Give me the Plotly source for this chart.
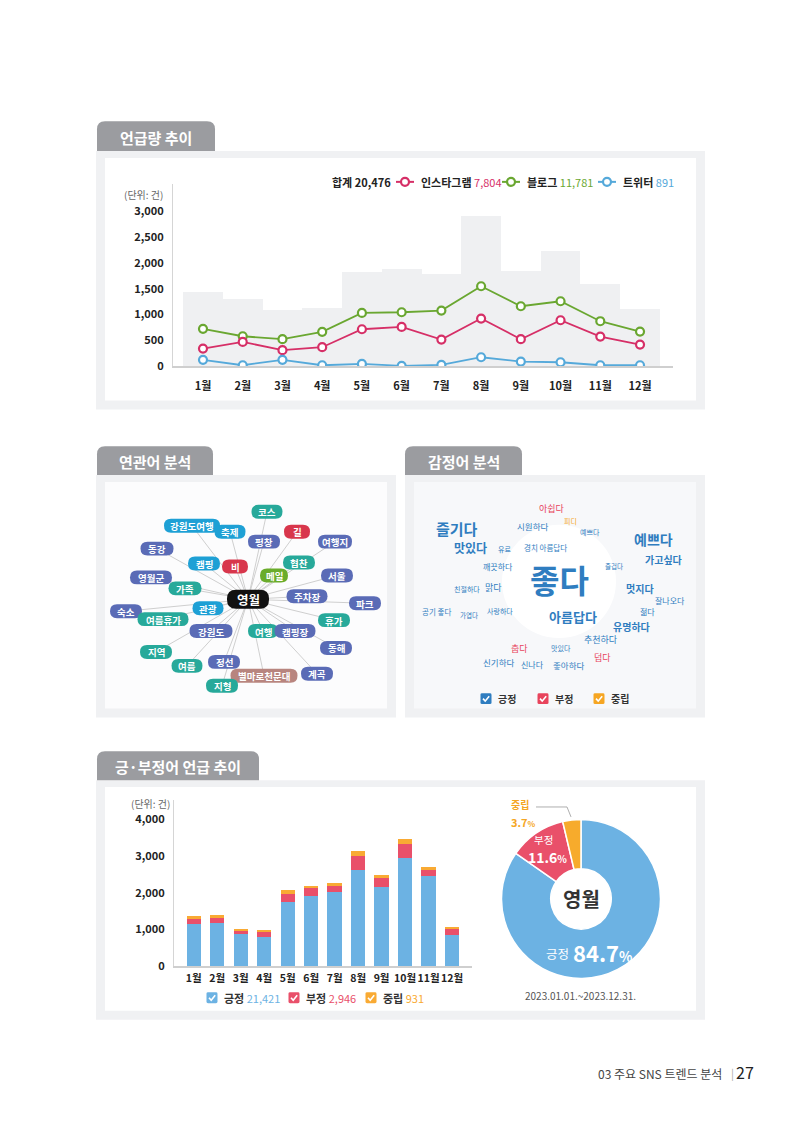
import plotly.graph_objects as go

W, H = 800, 1132
KR = "Noto Sans CJK KR"

# ---------------- data ----------------
months = ["1월", "2월", "3월", "4월", "5월", "6월", "7월", "8월", "9월", "10월", "11월", "12월"]
volume_total = [1440, 1310, 1100, 1130, 1830, 1885, 1790, 2920, 1840, 2235, 1600, 1115]
instagram = [342, 471, 310, 368, 716, 761, 516, 923, 523, 890, 574, 419]
blog = [723, 580, 523, 665, 1032, 1045, 1077, 1548, 1161, 1258, 871, 671]
twitter = [123, 19, 123, 19, 45, 5, 26, 174, 90, 77, 19, 19]
summary_total = "20,476"
summary_instagram = "7,804"
summary_blog = "11,781"
summary_twitter = "891"
y1_ticks = [0, 500, 1000, 1500, 2000, 2500, 3000]

sent_pos = [1150, 1170, 870, 800, 1745, 1900, 2020, 2610, 2160, 2945, 2450, 850]
sent_neg = [140, 150, 110, 150, 210, 215, 155, 400, 250, 380, 160, 145]
sent_neu = [60, 60, 5, 5, 110, 55, 90, 135, 75, 135, 90, 70]
sent_totals = ["21,421", "2,946", "931"]
sent_names = ["긍정", "부정", "중립"]
y2_ticks = [0, 1000, 2000, 3000, 4000]

pie_labels = ["긍정", "부정", "중립"]
pie_values = [84.7, 11.6, 3.7]
pie_center = "영월"
period = "2023.01.01.~2023.12.31."

net_center = "영월"
net_words = ["코스", "강원도여행", "축제", "길", "평창", "여행지", "동강", "협찬", "캠핑", "비", "메일", "서울",
             "영월군", "가족", "주차장", "파크", "숙소", "관광", "여름휴가", "휴가", "강원도", "여행", "캠핑장",
             "동해", "지역", "정선", "여름", "별마로천문대", "지형", "계곡"]
net_groups = ["teal", "cyan", "cyan", "red", "slate", "slate", "slate", "teal", "cyan", "red", "green", "slate",
              "slate", "teal", "slate", "slate", "slate", "cyan", "teal", "teal", "slate", "teal", "slate",
              "slate", "teal", "slate", "teal", "rose", "teal", "slate"]

emo_words = ["좋다", "즐기다", "예쁘다", "아름답다", "맛있다", "가고싶다", "멋지다", "유명하다", "추천하다", "아쉽다",
             "시원하다", "맑다", "깨끗하다", "잘나오다", "젊다", "신기하다", "신나다", "좋아하다", "춥다", "덥다",
             "공기 좋다", "사랑하다", "친절하다", "가엽다", "경치 아름답다", "유료", "예쁘다", "즐겁다", "피디", "맛있다"]
emo_groups = ["pos", "pos", "pos", "pos", "pos", "pos", "pos", "pos", "pos", "neg",
              "pos", "pos", "pos", "pos", "pos", "pos", "pos", "pos", "neg", "neg",
              "pos", "pos", "pos", "pos", "pos", "pos", "pos", "pos", "neu", "pos"]

# ---------------- layout positions / styles ----------------
net_pos = [(267, 515, 31), (192, 529, 56), (230, 535, 31), (297, 535, 26), (264, 545, 32), (335, 545, 34),
           (157, 552, 33), (299, 566, 32), (204, 567, 32), (235, 570, 26), (274, 579, 28), (337, 579, 32),
           (151, 581, 42), (185, 592, 33), (307, 600, 41), (365, 607, 32), (126, 615, 32), (208, 612, 31),
           (163, 623, 51), (334, 624, 32), (211, 635, 43), (263, 635, 30), (295, 635, 41),
           (336, 652, 32), (156, 656, 32), (224, 666, 32), (187, 670, 31), (264, 680, 67), (222, 690, 32),
           (317, 678, 32)]
net_colors = {"teal": "#27a99a", "cyan": "#1ea0d5", "red": "#d8364c", "slate": "#5a6bb6",
              "green": "#6aac2b", "rose": "#b8857f"}

emo_pos = [(559, 583, 32), (457, 532, 15), (653, 542, 14), (573, 620, 13), (470, 551, 12), (663, 563, 10),
           (640, 592, 10), (631, 630, 10), (601, 643, 9), (552, 512, 9), (532, 529, 8.5), (493, 591, 9),
           (498, 570, 8), (670, 604, 8), (647, 615, 8), (498, 666, 8.5), (532, 669, 8), (568, 669, 8.5),
           (519, 653, 9), (602, 662, 9), (436, 615, 7.5), (500, 615, 7), (467, 593, 7), (469, 619, 6.5),
           (545, 551, 7.5), (504, 552, 7), (590, 535, 7), (614, 570, 6.5), (570, 524, 7), (561, 652, 7)]
emo_colors = {"pos": "#2f7dc0", "neg": "#e8445c", "neu": "#f6a623"}

C_INSTA, C_BLOG, C_TW = "#d62f67", "#6aa731", "#55a9da"
C_POS, C_NEG, C_NEU = "#6cb2e3", "#e9506a", "#f9aa33"


def PX(x):
    return x / W


def PY(y):
    return 1 - y / H


shapes = []
ann = []


def p(x, y):
    return f"{PX(x):.5f},{PY(y):.5f}"


def rect(x0, y0, x1, y1, fill):
    shapes.append(dict(type="rect", xref="paper", yref="paper", x0=PX(x0), x1=PX(x1), y0=PY(y1), y1=PY(y0),
                       fillcolor=fill, line=dict(width=0), layer="below"))


def rrect(x0, y0, x1, y1, r, fill, top_only=False):
    if top_only:
        d = (f"M{p(x0, y1)} L{p(x0, y0 + r)} Q{p(x0, y0)} {p(x0 + r, y0)} L{p(x1 - r, y0)} "
             f"Q{p(x1, y0)} {p(x1, y0 + r)} L{p(x1, y1)} Z")
    else:
        d = (f"M{p(x0 + r, y0)} L{p(x1 - r, y0)} Q{p(x1, y0)} {p(x1, y0 + r)} L{p(x1, y1 - r)} "
             f"Q{p(x1, y1)} {p(x1 - r, y1)} L{p(x0 + r, y1)} Q{p(x0, y1)} {p(x0, y1 - r)} "
             f"L{p(x0, y0 + r)} Q{p(x0, y0)} {p(x0 + r, y0)} Z")
    shapes.append(dict(type="path", xref="paper", yref="paper", path=d, fillcolor=fill,
                       line=dict(width=0), layer="below"))


def line(x0, y0, x1, y1, color, width=1):
    shapes.append(dict(type="line", xref="paper", yref="paper", x0=PX(x0), y0=PY(y0), x1=PX(x1), y1=PY(y1),
                       line=dict(color=color, width=width), layer="below"))


def circle(cx, cy, r, fill, lc=None, lw=0):
    shapes.append(dict(type="circle", xref="paper", yref="paper", x0=PX(cx - r), x1=PX(cx + r),
                       y0=PY(cy + r), y1=PY(cy - r), fillcolor=fill,
                       line=dict(color=lc or fill, width=lw), layer="below"))


def txt(x, y, s, size, color, bold=False, anchor="center", family=KR):
    ann.append(dict(x=PX(x), y=PY(y), xref="paper", yref="paper", text=s, showarrow=False,
                    font=dict(size=size, color=color, family=family, weight="bold" if bold else "normal"),
                    xanchor=anchor, yanchor="middle"))


def checkbox(cx, cy, color, s=11):
    rrect(cx - s / 2, cy - s / 2, cx + s / 2, cy + s / 2, 1.5, color)
    d = f"M{p(cx - 3, cy)} L{p(cx - 0.8, cy + 2.5)} L{p(cx + 3.2, cy - 2.5)}"
    shapes.append(dict(type="path", xref="paper", yref="paper", path=d, line=dict(color="white", width=1.6),
                       layer="below"))


# ---------------- panels & tabs ----------------
panels = [(96, 152, 705, 412, "#ffffff"), (96, 478, 396, 722, "#fcfcfd"),
          (405, 478, 705, 722, "#f7f8fa"), (96, 785, 705, 1026, "#ffffff")]
for x0, y0, x1, y1, inner in panels:
    rect(x0, y0, x1, y1, "#f0f1f3")
    rect(x0 + 9, y0 + 7, x1 - 9, y1 - 9, inner)

tabs = [("언급량 추이", 97, 122, 215, 152), ("연관어 분석", 97, 449, 213, 478),
        ("감정어 분석", 405, 449, 522, 478), ("긍·부정어 언급 추이", 97, 756, 259, 785)]
for label, x0, y0, x1, y1 in tabs:
    rrect(x0, y0, x1, y1, 8, "#9b9ca0", top_only=True)
    txt((x0 + x1) / 2, (y0 + y1) / 2 + 1, label, 15, "white", bold=True)

# ---------------- panel 1: line chart ----------------
fig = go.Figure()
fig.add_trace(go.Bar(x=list(range(12)), y=volume_total, width=1.0, xaxis="x", yaxis="y",
                     marker=dict(color="#eff0f2", line=dict(width=0)), hoverinfo="skip", showlegend=False))
for series, col in [(blog, C_BLOG), (instagram, C_INSTA), (twitter, C_TW)]:
    fig.add_trace(go.Scatter(x=list(range(12)), y=series, mode="lines+markers", xaxis="x", yaxis="y",
                             line=dict(color=col, width=1.8),
                             marker=dict(symbol="circle", size=8, color="white", line=dict(color=col, width=2.2)),
                             showlegend=False))

txt(143, 196, "(단위: 건)", 10, "#666")
txt(330, 183, f"<b>합계 {summary_total}</b>", 11, "#222", anchor="left")
for cx, col, label, val in [(405, C_INSTA, "인스타그램", summary_instagram),
                            (511, C_BLOG, "블로그", summary_blog),
                            (607, C_TW, "트위터", summary_twitter)]:
    line(cx - 9, 183, cx + 9, 183, col, 2)
    circle(cx, 183, 4, "white", col, 2.2)
    txt(cx + 14, 183, f"<b>{label}</b> <span style='color:{col}'>{val}</span>", 11, "#222", anchor="left")

# ---------------- panel 2: network ----------------
ccx, ccy = 248, 603
for (cx, cy, w) in net_pos:
    line(ccx, ccy, cx, cy, "#cfcfcf", 1)
for word, grp, (cx, cy, w) in zip(net_words, net_groups, net_pos):
    rrect(cx - w / 2, cy - 7, cx + w / 2, cy + 7, 7, net_colors[grp])
    txt(cx, cy + 0.5, word, 9.5, "white", bold=True)
rrect(ccx - 21, ccy - 9.5, ccx + 21, ccy + 9.5, 9, "#111111")
txt(ccx, ccy + 0.5, net_center, 12.5, "white", bold=True)

# ---------------- panel 3: word cloud ----------------
circle(559, 585, 57, "#ffffff")
for word, grp, (x, y, s) in zip(emo_words, emo_groups, emo_pos):
    txt(x, y, word, s, emo_colors[grp], bold=(s >= 10))
for cx, name, grp in [(486, "긍정", "pos"), (543, "부정", "neg"), (599, "중립", "neu")]:
    checkbox(cx, 703, emo_colors[grp])
    txt(cx + 10, 703, name, 10, "#333", bold=True, anchor="left")

# ---------------- panel 4: stacked bars ----------------
for vals, col in [(sent_pos, C_POS), (sent_neg, C_NEG), (sent_neu, C_NEU)]:
    fig.add_trace(go.Bar(x=list(range(12)), y=vals, width=0.61, xaxis="x2", yaxis="y2",
                         marker=dict(color=col, line=dict(width=0)), showlegend=False))
txt(150, 808, "(단위: 건)", 10, "#666")
for cx, name, col, tot in [(212, sent_names[0], C_POS, sent_totals[0]),
                           (294, sent_names[1], C_NEG, sent_totals[1]),
                           (371, sent_names[2], C_NEU, sent_totals[2])]:
    checkbox(cx, 1004, col)
    txt(cx + 10, 1004, f"<b>{name}</b> <span style='color:{col}'>{tot}</span>", 11, "#333", anchor="left")

# donut
pcx, pcy, pr = 581, 904.5, 80
fig.add_trace(go.Pie(labels=pie_labels, values=pie_values, hole=0.38, sort=False, direction="clockwise",
                     rotation=0, textinfo="none", hoverinfo="label+percent",
                     marker=dict(colors=[C_POS, C_NEG, "#f7ab2c"], line=dict(color="white", width=1.5)),
                     domain=dict(x=[PX(pcx - pr), PX(pcx + pr)], y=[PY(pcy + pr), PY(pcy - pr)]),
                     showlegend=False))
txt(520, 810, f"<b>{pie_labels[2]}</b>", 10, "#f5a623")
txt(523, 827, f"<b>{pie_values[2]}<span style='font-size:8px'>%</span></b>", 11, "#f5a623")
line(536, 812, 567, 812, "#999", 0.8)
line(567, 812, 571, 822, "#999", 0.8)
txt(543, 845, pie_labels[1], 10.5, "white")
txt(547, 862, f"<b>{pie_values[1]}<span style='font-size:10px'>%</span></b>", 14, "white")
txt(pcx, pcy, f"<b>{pie_center}</b>", 20, "#333")
txt(557, 959, pie_labels[0], 12.5, "white")
txt(603, 958, f"<b>{pie_values[0]}<span style='font-size:14px'>%</span></b>", 22, "white")
txt(580, 1002, period, 10, "#555")

# ---------------- footer ----------------
txt(724, 1080, "03 주요 SNS 트렌드 분석", 12, "#444", anchor="right")
txt(732, 1080, "|", 11, "#aaa")
txt(745, 1079, "27", 16, "#222")

# ---------------- axes ----------------
tickfont = dict(family=KR, size=11, color="#222", weight="bold")
tickfont2 = dict(family=KR, size=10.5, color="#222", weight="bold")
fig.update_layout(
    width=W, height=H, margin=dict(l=0, r=0, t=0, b=0),
    paper_bgcolor="white", plot_bgcolor="rgba(0,0,0,0)",
    barmode="stack", bargap=0, showlegend=False,
    font=dict(family=KR),
    xaxis=dict(domain=[PX(173), PX(673)], range=[-0.755, 11.83], tickvals=list(range(12)), ticktext=months,
               showline=True, linecolor="#cfcfcf", linewidth=1.5, showgrid=False, zeroline=False,
               tickfont=tickfont, ticks="", tickangle=0, ticklabelstandoff=9, anchor="y", fixedrange=True),
    yaxis=dict(domain=[PY(368.5), PY(185)], range=[0, 3530], tickvals=y1_ticks, tickformat=",",
               showline=True, linecolor="#d5d5d5", linewidth=1, showgrid=False, zeroline=False,
               tickfont=tickfont, ticks="", ticklabelstandoff=6, anchor="x", fixedrange=True),
    xaxis2=dict(domain=[PX(174), PX(472)], range=[-0.84, 11.85], tickvals=list(range(12)), ticktext=months,
                showline=True, linecolor="#cfcfcf", linewidth=1.5, showgrid=False, zeroline=False,
                tickfont=tickfont2, ticks="", tickangle=0, ticklabelstandoff=2, anchor="y2", fixedrange=True),
    yaxis2=dict(domain=[PY(972), PY(805)], range=[0, 4526], tickvals=y2_ticks, tickformat=",",
                showline=True, linecolor="#d5d5d5", linewidth=1, showgrid=False, zeroline=False,
                tickfont=tickfont, ticks="", ticklabelstandoff=6, anchor="x2", fixedrange=True),
    shapes=shapes, annotations=ann,
)

fig.write_html("out.html", config={"displayModeBar": False})
